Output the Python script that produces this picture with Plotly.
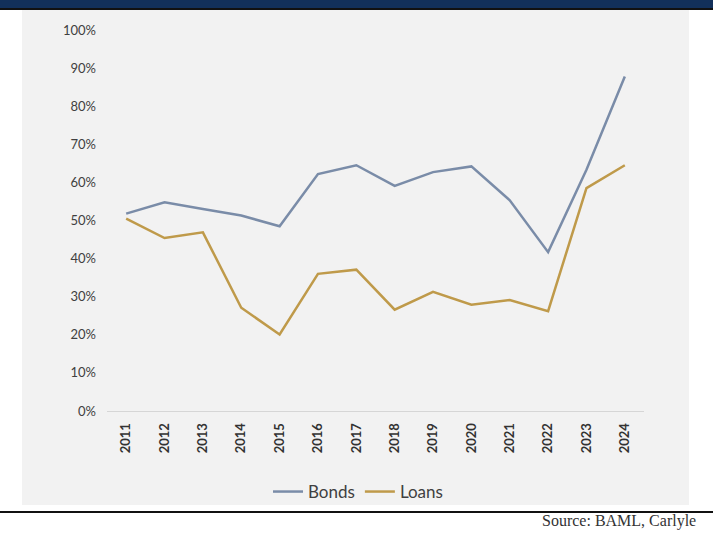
import plotly.graph_objects as go

years = ["2011", "2012", "2013", "2014", "2015", "2016", "2017",
         "2018", "2019", "2020", "2021", "2022", "2023", "2024"]
bonds = [51.8, 54.8, 53.0, 51.3, 48.5, 62.2, 64.5, 59.1, 62.7, 64.2, 55.3, 41.7, 63.3, 87.8]
loans = [50.5, 45.4, 46.9, 27.1, 20.1, 36.0, 37.1, 26.6, 31.3, 27.9, 29.1, 26.2, 58.5, 64.5]
y_ticks = [0, 10, 20, 30, 40, 50, 60, 70, 80, 90, 100]

W, H = 713, 533
L, R, T, B = 107, 69, 30, 122
PW, PH = W - L - R, H - T - B


def px(x):
    return (x - L) / PW


def py(y):
    return (H - B - y) / PH


fig = go.Figure()
fig.add_trace(go.Scatter(x=years, y=bonds, name="Bonds", mode="lines",
                         line=dict(color="#7a8ca8", width=2.5)))
fig.add_trace(go.Scatter(x=years, y=loans, name="Loans", mode="lines",
                         line=dict(color="#bf9a4a", width=2.5)))

shapes = [
    # navy header bar
    dict(type="rect", xref="paper", yref="paper", x0=px(0), x1=px(W), y0=py(0), y1=py(8),
         fillcolor="#12305a", line=dict(width=0), layer="below"),
    dict(type="rect", xref="paper", yref="paper", x0=px(0), x1=px(W), y0=py(8), y1=py(10),
         fillcolor="#111111", line=dict(width=0), layer="below"),
    # gray panel
    dict(type="rect", xref="paper", yref="paper", x0=px(22), x1=px(689), y0=py(10), y1=py(505),
         fillcolor="#f2f2f2", line=dict(width=0), layer="below"),
    # bottom rule
    dict(type="rect", xref="paper", yref="paper", x0=px(0), x1=px(W), y0=py(511), y1=py(513),
         fillcolor="#111111", line=dict(width=0), layer="below"),
]

fig.update_layout(
    width=W, height=H,
    margin=dict(l=L, r=R, t=T, b=B, pad=0),
    paper_bgcolor="white",
    plot_bgcolor="rgba(0,0,0,0)",
    shapes=shapes,
    showlegend=True,
    legend=dict(orientation="h", x=px(358), y=py(492), xanchor="center", yanchor="middle",
                font=dict(family="Lato", size=17, color="#404040"),
                bgcolor="rgba(0,0,0,0)", itemwidth=30, tracegroupgap=0),
    xaxis=dict(type="category", range=[-0.5, 13.5], tickangle=-90,
               tickfont=dict(family="Lato", size=13, color="#333333", weight="bold"),
               showgrid=False, showline=True, linecolor="#d6d6d6", linewidth=1,
               ticks="", ticklabelstandoff=6, zeroline=False, fixedrange=True),
    yaxis=dict(range=[0, 100], tickvals=y_ticks, ticktext=[f"{v}%" for v in y_ticks],
               tickfont=dict(family="Lato", size=13, color="#404040"),
               showgrid=False, zeroline=False, showline=False, ticks="",
               ticklabelstandoff=10, fixedrange=True),
    annotations=[
        dict(text="Source: BAML, Carlyle", xref="paper", yref="paper",
             x=px(698), y=py(521), xanchor="right", yanchor="middle", showarrow=False,
             font=dict(family="Liberation Serif", size=16, color="#333333"))
    ],
)

fig.write_html(
    "out.html",
    config={"displayModeBar": False},
    post_script="document.body.style.margin='0';document.body.style.overflow='hidden';",
)
